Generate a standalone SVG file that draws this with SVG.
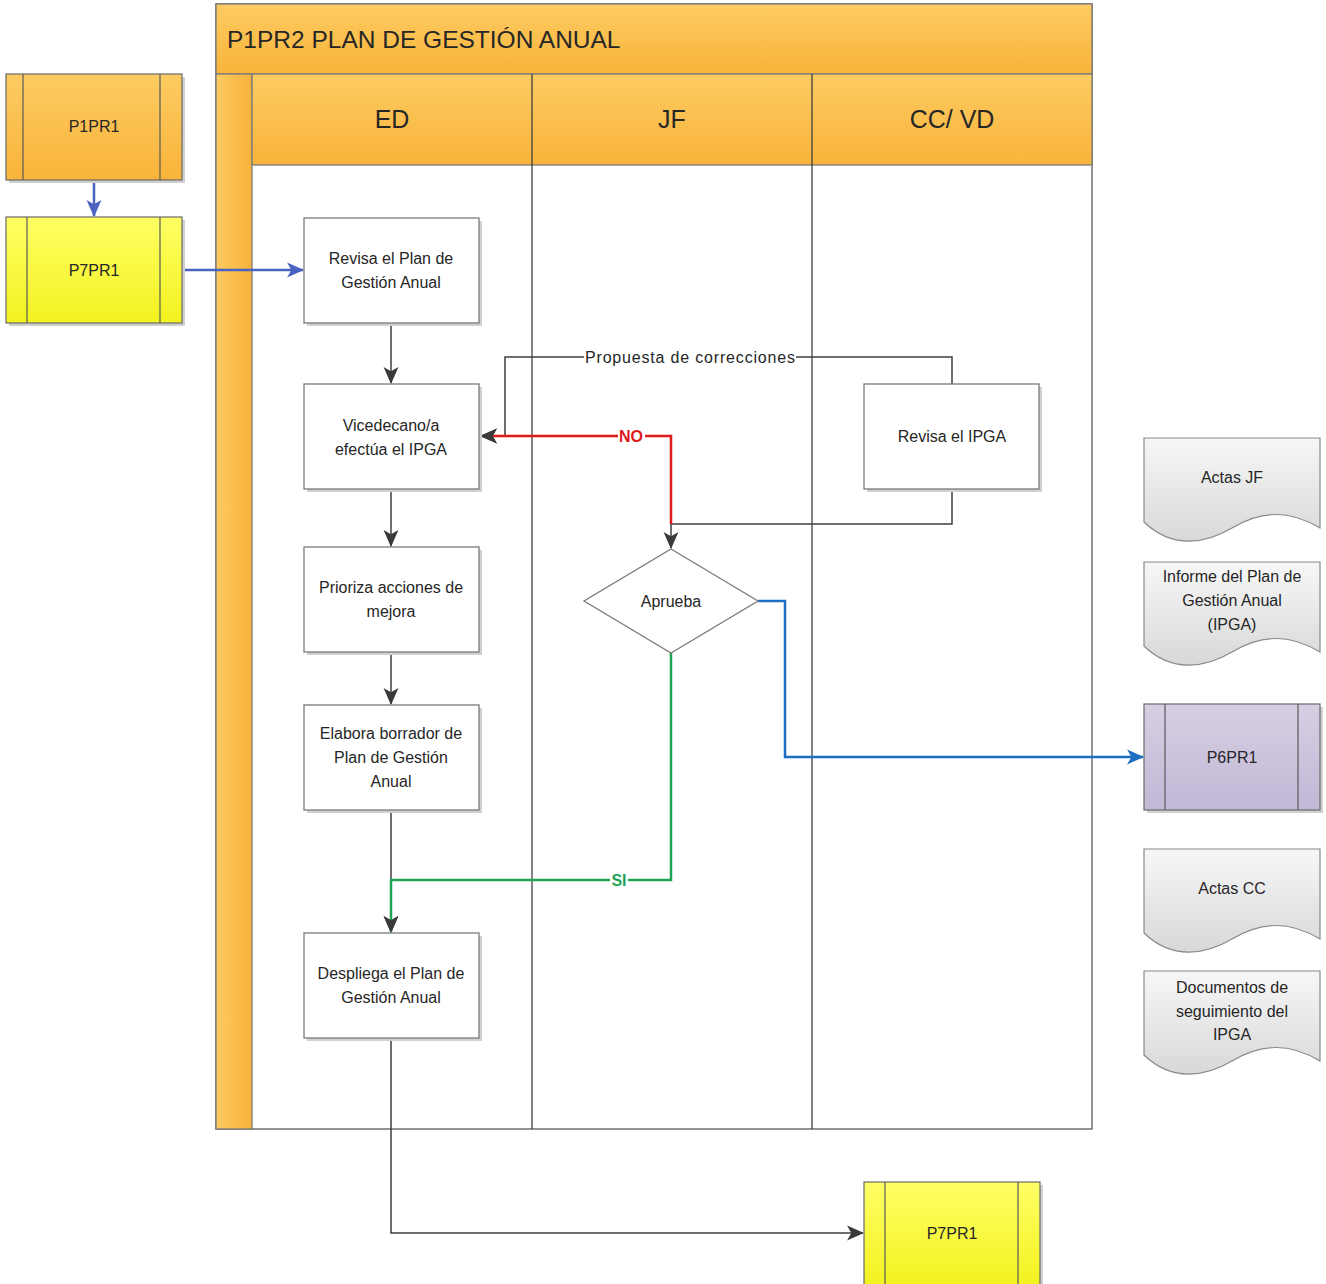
<svg xmlns="http://www.w3.org/2000/svg" width="1326" height="1284" viewBox="0 0 1326 1284">
<style>
text{font-family:"Liberation Sans",Arial,sans-serif;fill:#262626;text-anchor:middle}
.t{font-size:16px}
.h{font-size:25px}
.box{fill:#fff;stroke:#7a7a7a;stroke-width:1.3}
.sh{fill:#d0d0d0}
.ln{fill:none;stroke:#3f3f3f;stroke-width:1.5}
.lane{fill:none;stroke:#404040;stroke-width:1.3}
.c{fill:none;stroke-width:2.5}
.doc{fill:url(#gd);stroke:#8a8a8a;stroke-width:1.2}
.sub{stroke:#595959;stroke-width:1.2}
</style>
<defs>
<linearGradient id="go" x1="0" y1="0" x2="0" y2="1"><stop offset="0" stop-color="#FDCB62"/><stop offset="1" stop-color="#F9B43A"/></linearGradient>
<linearGradient id="gv" x1="0" y1="0" x2="1" y2="0"><stop offset="0" stop-color="#FDCB62"/><stop offset="1" stop-color="#F8B23A"/></linearGradient>
<linearGradient id="gy" x1="0" y1="0" x2="0" y2="1"><stop offset="0" stop-color="#FFFF66"/><stop offset="1" stop-color="#F2F21E"/></linearGradient>
<linearGradient id="gp" x1="0" y1="0" x2="0" y2="1"><stop offset="0" stop-color="#D6CFE3"/><stop offset="1" stop-color="#C2B7D6"/></linearGradient>
<linearGradient id="gd" x1="0" y1="0" x2="0" y2="1"><stop offset="0" stop-color="#F7F7F7"/><stop offset="1" stop-color="#D8D8D8"/></linearGradient>
<marker id="ad" viewBox="0 0 16 16" refX="15" refY="8" markerWidth="17" markerHeight="17" markerUnits="userSpaceOnUse" orient="auto"><path d="M0,1 L16,8 L0,15 L4,8 Z" fill="#3a3a3a"/></marker>
<marker id="ab" viewBox="0 0 16 16" refX="15" refY="8" markerWidth="17" markerHeight="17" markerUnits="userSpaceOnUse" orient="auto"><path d="M0,1 L16,8 L0,15 L4,8 Z" fill="#4A62C0"/></marker>
<marker id="abl" viewBox="0 0 16 16" refX="15" refY="8" markerWidth="17" markerHeight="17" markerUnits="userSpaceOnUse" orient="auto"><path d="M0,1 L16,8 L0,15 L4,8 Z" fill="#1F6FC0"/></marker>
</defs>
<rect width="1326" height="1284" fill="#fff"/>

<g id="pool">
<rect x="216" y="4" width="876" height="1125" fill="#fff" stroke="#595959" stroke-width="1.3"/>
<rect x="216" y="4" width="876" height="70" fill="url(#go)" stroke="#7a7a7a" stroke-width="1.3"/>
<text x="227" y="48" style="text-anchor:start;font-size:24.5px">P1PR2 PLAN DE GESTIÓN ANUAL</text>
<rect x="216" y="74" width="36" height="1055" fill="url(#gv)" stroke="#7a7a7a" stroke-width="1.3"/>
<rect x="252" y="74" width="840" height="91" fill="url(#go)" stroke="#7a7a7a" stroke-width="1.3"/>
<line x1="532" y1="74" x2="532" y2="1129" class="lane"/>
<line x1="812" y1="74" x2="812" y2="1129" class="lane"/>
<text x="392" y="128" class="h">ED</text>
<text x="672" y="128" class="h">JF</text>
<text x="952" y="128" class="h">CC/ VD</text>
</g>

<g id="connectors">
<path d="M94,180 V216" class="c" stroke="#4A62C0" marker-end="url(#ab)"/>
<path d="M182,270 H303" class="c" stroke="#4A62C0" marker-end="url(#ab)"/>
<path d="M391,323 V383" class="ln" marker-end="url(#ad)"/>
<path d="M391,489 V546" class="ln" marker-end="url(#ad)"/>
<path d="M391,652 V704" class="ln" marker-end="url(#ad)"/>
<path d="M391,810 V932" class="ln" marker-end="url(#ad)"/>
<path d="M952,384 V357 H505 V436 H481" class="ln" marker-end="url(#ad)"/>
<rect x="584" y="349" width="212" height="16" fill="#fff"/>
<text x="690" y="363" class="t" textLength="210" lengthAdjust="spacing">Propuesta de correcciones</text>
<path d="M952,489 V524 H671 V548" class="ln" marker-end="url(#ad)"/>
<path d="M671,524 V436 H481" class="c" stroke="#E01B1B" marker-end="url(#ad)"/>
<rect x="618" y="428" width="27" height="16" fill="#fff"/>
<text x="631" y="442" class="t" style="fill:#E01B1B;font-weight:bold">NO</text>
<path d="M671,653 V880 H391 V932" class="c" stroke="#1EA553" marker-end="url(#ad)"/>
<rect x="610" y="872" width="18" height="16" fill="#fff"/>
<text x="619" y="886" class="t" style="fill:#1EA553;font-weight:bold">SI</text>
<path d="M758,601 H785 V757 H1143" class="c" stroke="#1F6FC0" marker-end="url(#abl)"/>
<path d="M391,1038 V1233 H863" class="ln" marker-end="url(#ad)"/>
</g>

<g id="n-p1pr1">
<rect x="9" y="77" width="176" height="106" class="sh"/>
<rect x="6" y="74" width="176" height="106" fill="url(#go)" stroke="#6a6a6a" stroke-width="1.2"/>
<line x1="23" y1="74" x2="23" y2="180" class="sub"/><line x1="160" y1="74" x2="160" y2="180" class="sub"/>
<text x="94" y="132" class="t">P1PR1</text>
</g>
<g id="n-p7pr1-in">
<rect x="9" y="220" width="176" height="106" class="sh"/>
<rect x="6" y="217" width="176" height="106" fill="url(#gy)" stroke="#6a6a6a" stroke-width="1.2"/>
<line x1="27" y1="217" x2="27" y2="323" class="sub"/><line x1="160" y1="217" x2="160" y2="323" class="sub"/>
<text x="94" y="276" class="t">P7PR1</text>
</g>

<g id="n-revisa-plan">
<rect x="307" y="221" width="175" height="105" class="sh"/>
<rect x="304" y="218" width="175" height="105" class="box"/>
<text x="391" y="264" class="t">Revisa el Plan de</text>
<text x="391" y="288" class="t">Gestión Anual</text>
</g>
<g id="n-efectua">
<rect x="307" y="387" width="175" height="105" class="sh"/>
<rect x="304" y="384" width="175" height="105" class="box"/>
<text x="391" y="431" class="t">Vicedecano/a</text>
<text x="391" y="455" class="t">efectúa el IPGA</text>
</g>
<g id="n-prioriza">
<rect x="307" y="550" width="175" height="105" class="sh"/>
<rect x="304" y="547" width="175" height="105" class="box"/>
<text x="391" y="593" class="t">Prioriza acciones de</text>
<text x="391" y="617" class="t">mejora</text>
</g>
<g id="n-elabora">
<rect x="307" y="708" width="175" height="105" class="sh"/>
<rect x="304" y="705" width="175" height="105" class="box"/>
<text x="391" y="739" class="t">Elabora borrador de</text>
<text x="391" y="763" class="t">Plan de Gestión</text>
<text x="391" y="787" class="t">Anual</text>
</g>
<g id="n-despliega">
<rect x="307" y="936" width="175" height="105" class="sh"/>
<rect x="304" y="933" width="175" height="105" class="box"/>
<text x="391" y="979" class="t">Despliega el Plan de</text>
<text x="391" y="1003" class="t">Gestión Anual</text>
</g>
<g id="n-revisa-ipga">
<rect x="867" y="387" width="175" height="105" class="sh"/>
<rect x="864" y="384" width="175" height="105" class="box"/>
<text x="952" y="442" class="t">Revisa el IPGA</text>
</g>
<g id="n-aprueba">
<polygon points="671,549 758,601 671,653 584,601" fill="#fff" stroke="#7a7a7a" stroke-width="1.3"/>
<text x="671" y="607" class="t">Aprueba</text>
</g>

<g id="n-actas-jf">
<path d="M1144,438 H1320 V528 C1290,510 1262,510 1232,528 C1205,544 1172,549 1144,522 Z" class="doc"/>
<text x="1232" y="483" class="t">Actas JF</text>
</g>
<g id="n-informe">
<path d="M1144,562 H1320 V652 C1290,634 1262,634 1232,652 C1205,668 1172,673 1144,646 Z" class="doc"/>
<text x="1232" y="582" class="t">Informe del Plan de</text>
<text x="1232" y="606" class="t">Gestión Anual</text>
<text x="1232" y="630" class="t">(IPGA)</text>
</g>
<g id="n-p6pr1">
<rect x="1147" y="707" width="176" height="106" class="sh"/>
<rect x="1144" y="704" width="176" height="106" fill="url(#gp)" stroke="#6a6a6a" stroke-width="1.2"/>
<line x1="1165" y1="704" x2="1165" y2="810" class="sub"/><line x1="1298" y1="704" x2="1298" y2="810" class="sub"/>
<text x="1232" y="763" class="t">P6PR1</text>
</g>
<g id="n-actas-cc">
<path d="M1144,849 H1320 V939 C1290,921 1262,921 1232,939 C1205,955 1172,960 1144,933 Z" class="doc"/>
<text x="1232" y="894" class="t">Actas CC</text>
</g>
<g id="n-documentos">
<path d="M1144,971 H1320 V1061 C1290,1043 1262,1043 1232,1061 C1205,1077 1172,1082 1144,1055 Z" class="doc"/>
<text x="1232" y="993" class="t">Documentos de</text>
<text x="1232" y="1017" class="t">seguimiento del</text>
<text x="1232" y="1040" class="t">IPGA</text>
</g>
<g id="n-p7pr1-out">
<rect x="867" y="1185" width="176" height="106" class="sh"/>
<rect x="864" y="1182" width="176" height="106" fill="url(#gy)" stroke="#6a6a6a" stroke-width="1.2"/>
<line x1="885" y1="1182" x2="885" y2="1288" class="sub"/><line x1="1018" y1="1182" x2="1018" y2="1288" class="sub"/>
<text x="952" y="1239" class="t">P7PR1</text>
</g>
</svg>
